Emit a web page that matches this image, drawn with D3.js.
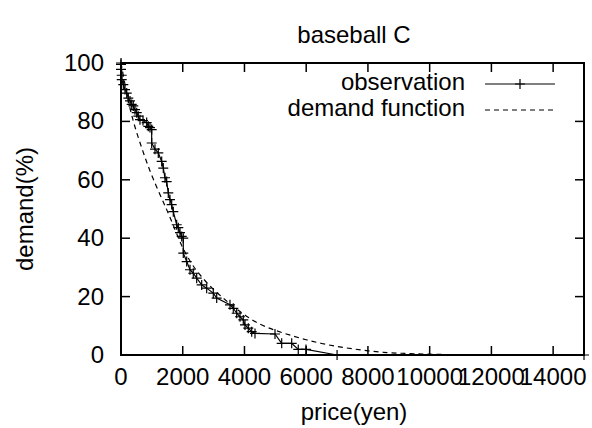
<!DOCTYPE html>
<html>
<head>
<meta charset="utf-8">
<script src="https://cdn.jsdelivr.net/npm/d3@7"></script>
<style>
  body { margin: 0; background: #fff; }
  text { font-family: "Liberation Sans", Arial, Helvetica, sans-serif; fill: #000; }
</style>
</head>
<body>
<script>
// observation (price in yen, demand in %)
var obsPrice = [0, 0, 0, 23, 23, 75, 130, 185, 237, 292, 347, 398, 453, 509, 560, 615, 713, 832, 885, 939, 994,
    994, 1101, 1208, 1318, 1370, 1425, 1480, 1532, 1587, 1642, 1694, 1804, 1856, 1911, 1966, 2018,
    2018, 2128, 2235, 2342, 2452, 2614, 2776, 2990, 3100, 3531, 3638, 3748, 3855, 3962, 4017, 4124,
    4234, 4341, 4989, 5206, 5530, 5743, 5993, 7000, 15000];
var obsDemand = [100, 99.5, 97.8, 95.8, 94.3, 92.6, 90.9, 89.7, 88.0, 87.0, 85.8, 85.3, 84.0, 83.0, 81.8, 80.6, 80.3, 79.6, 78.3, 77.9, 77.2,
    72.6, 70.5, 69.2, 66.3, 64.0, 60.7, 59.4, 55.5, 53.2, 51.5, 49.1, 44.6, 43.6, 41.9, 40.6, 40.0,
    34.9, 32.0, 29.2, 28.0, 26.3, 24.0, 22.9, 21.2, 19.5, 17.2, 16.0, 14.3, 13.1, 12.0, 10.3, 9.2,
    8.0, 7.4, 7.2, 4.0, 4.0, 1.9, 1.9, 0, 0];

// demand function
var fnPrice = [0, 200, 400, 700, 1000, 1500, 1750, 2000, 2250, 2500, 3000, 3500, 4000, 4500, 5000, 5500,
    6000, 6500, 7000, 7500, 8000, 8500, 9000, 10000, 11000, 12000, 15000];
var fnDemand = [100, 88.5, 79.5, 70, 61, 49.5, 42.9, 36.5, 31.8, 28, 22.2, 17.8, 13.6, 10.4, 8.4, 6.7,
    5.2, 3.9, 2.9, 2.1, 1.4, 0.9, 0.6, 0.25, 0.1, 0.05, 0];

var xTicks = [0, 2000, 4000, 6000, 8000, 10000, 12000, 14000];
var yTicks = [0, 20, 40, 60, 80, 100];

var seriesNames = ["observation", "demand function"];
var chartTitle = "baseball C";

function drawChart() {
    var width = 592, height = 428;
    var plotLeft = 121, plotRight = 584, plotTop = 63, plotBottom = 355;
    var tickLen = 9;
    var fontSize = "24px";

    var svg = d3.select("body").append("svg")
        .attr("width", width)
        .attr("height", height);

    var x = d3.scaleLinear().domain([0, 15000]).range([plotLeft, plotRight]);
    var y = d3.scaleLinear().domain([0, 100]).range([plotBottom, plotTop]);

    // ticks (inside, mirrored)
    var ticks = svg.append("g").attr("stroke", "#000").attr("stroke-width", 1.5);
    xTicks.forEach(function (t) {
        ticks.append("line").attr("x1", x(t)).attr("x2", x(t)).attr("y1", plotBottom).attr("y2", plotBottom - tickLen);
        ticks.append("line").attr("x1", x(t)).attr("x2", x(t)).attr("y1", plotTop).attr("y2", plotTop + tickLen);
    });
    yTicks.forEach(function (t) {
        ticks.append("line").attr("x1", plotLeft).attr("x2", plotLeft + tickLen).attr("y1", y(t)).attr("y2", y(t));
        ticks.append("line").attr("x1", plotRight).attr("x2", plotRight - tickLen).attr("y1", y(t)).attr("y2", y(t));
    });

    // tick labels
    svg.append("g").selectAll("text")
        .data(xTicks)
        .enter().append("text")
        .attr("x", function (d) { return x(d); })
        .attr("y", 385)
        .attr("text-anchor", "middle")
        .style("font-size", fontSize)
        .text(function (d) { return d; });

    svg.append("g").selectAll("text")
        .data(yTicks)
        .enter().append("text")
        .attr("x", 104)
        .attr("y", function (d) { return y(d) + 8; })
        .attr("text-anchor", "end")
        .style("font-size", fontSize)
        .text(function (d) { return d; });

    // border
    svg.append("rect")
        .attr("x", plotLeft).attr("y", plotTop)
        .attr("width", plotRight - plotLeft).attr("height", plotBottom - plotTop)
        .attr("fill", "none").attr("stroke", "#000").attr("stroke-width", 2);

    // titles
    svg.append("text").attr("x", 354).attr("y", 43).attr("text-anchor", "middle")
        .style("font-size", fontSize).text(chartTitle);
    svg.append("text").attr("x", 354).attr("y", 420).attr("text-anchor", "middle")
        .style("font-size", fontSize).text("price(yen)");
    svg.append("text").attr("transform", "translate(33,209) rotate(-90)").attr("text-anchor", "middle")
        .style("font-size", fontSize).text("demand(%)");

    // demand function (dashed)
    var fnData = fnPrice.map(function (p, i) { return [p, fnDemand[i]]; });
    svg.append("path")
        .datum(fnData)
        .attr("fill", "none")
        .attr("stroke", "#000")
        .attr("stroke-width", 1.2)
        .attr("stroke-dasharray", "5,4")
        .attr("d", d3.line()
            .x(function (d) { return x(d[0]); })
            .y(function (d) { return y(d[1]); })
            .curve(d3.curveBasis));

    // observation line + points
    var obsData = obsPrice.map(function (p, i) { return [p, obsDemand[i]]; });
    svg.append("path")
        .datum(obsData)
        .attr("fill", "none")
        .attr("stroke", "#000")
        .attr("stroke-width", 1.2)
        .attr("d", d3.line()
            .x(function (d) { return x(d[0]); })
            .y(function (d) { return y(d[1]); }));

    function plusPath(cx, cy, r) {
        return "M" + (cx - r) + "," + cy + "H" + (cx + r) + "M" + cx + "," + (cy - r) + "V" + (cy + r);
    }
    svg.append("g").selectAll("path")
        .data(obsData)
        .enter().append("path")
        .attr("d", function (d) { return plusPath(x(d[0]), y(d[1]), 5); })
        .attr("stroke", "#000")
        .attr("stroke-width", 1.2)
        .attr("fill", "none");

    // legend
    var legend = svg.append("g");
    legend.append("text").attr("x", 465).attr("y", 90).attr("text-anchor", "end")
        .style("font-size", fontSize).text(seriesNames[0]);
    legend.append("text").attr("x", 465).attr("y", 116).attr("text-anchor", "end")
        .style("font-size", fontSize).text(seriesNames[1]);
    legend.append("line").attr("x1", 485).attr("x2", 555).attr("y1", 84).attr("y2", 84)
        .attr("stroke", "#000").attr("stroke-width", 1.2);
    legend.append("path").attr("d", plusPath(520, 84, 5))
        .attr("stroke", "#000").attr("stroke-width", 1.2).attr("fill", "none");
    legend.append("line").attr("x1", 485).attr("x2", 555).attr("y1", 110).attr("y2", 110)
        .attr("stroke", "#000").attr("stroke-width", 1.2).attr("stroke-dasharray", "5,4");
}

drawChart();
</script>
</body>
</html>
